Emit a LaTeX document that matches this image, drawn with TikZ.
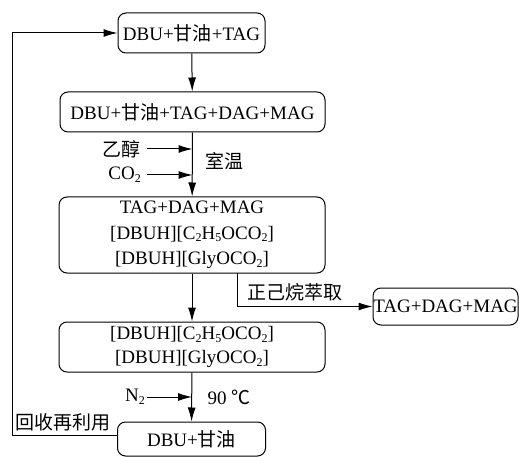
\documentclass[tikz,border=0pt]{standalone}
\usepackage{fontspec}
\setmainfont{Liberation Serif}
\newfontfamily\cjk{Noto Sans CJK SC}
\usetikzlibrary{arrows.meta}
\newcommand{\zh}[1]{{\cjk #1}}
\newcommand{\sbs}[1]{\raisebox{-0.3ex}{\fontsize{12}{12}\selectfont #1}}
\begin{document}
\begin{tikzpicture}[x=1pt,y=-1pt,
  box/.style={draw,line width=1pt,rounded corners=8pt,align=center,inner sep=0pt,
    font=\fontsize{19}{25.5}\selectfont},
  lab/.style={font=\fontsize{19}{20}\selectfont,inner sep=0pt},
  conn/.style={line width=1pt,-{Latex[length=14pt,width=8pt]}}]
\useasboundingbox (0,0) rectangle (519,457);
\node[box,minimum width=147pt,minimum height=40pt] (b1) at (191.5,33) {DBU+\zh{甘油}+TAG};
\node[box,minimum width=265pt,minimum height=40pt] (b2) at (192.5,112) {DBU+\zh{甘油}+TAG+DAG+MAG};
\node[box,minimum width=266pt,minimum height=76pt] (b3) at (192,235) {TAG+DAG+MAG\\{}[DBUH][C\sbs{2}H\sbs{5}OCO\sbs{2}]\\{}[DBUH][GlyOCO\sbs{2}]};
\node[box,minimum width=266pt,minimum height=50pt,font=\fontsize{19}{24}\selectfont] (b4) at (192,347) {{}[DBUH][C\sbs{2}H\sbs{5}OCO\sbs{2}]\\{}[DBUH][GlyOCO\sbs{2}]};
\node[box,minimum width=148pt,minimum height=34pt] (b5) at (191.5,439) {DBU+\zh{甘油}};
\node[box,minimum width=145pt,minimum height=37pt] (b6) at (445.5,306.5) {TAG+DAG+MAG};
% main flow
\draw[conn] (b1) -- (b2);
\draw[conn] (b2) -- (b3);
\draw[conn] (b3.south -| b4.north) -- (b4);
\draw[conn] (b4) -- (b5);
% inputs
\coordinate (e1) at (147,149);
\coordinate (e2) at (147,175);
\coordinate (e3) at (147,397);
\node[lab,anchor=east] (l1) at (141,149) {\zh{乙醇}};
\node[lab,anchor=east] (l2) at (141,175) {CO\sbs{2}};
\node[lab] (l3) at (224,161) {\zh{室温}};
\draw[conn] (e1) -- (e1 -| b2.south);
\draw[conn] (e2) -- (e2 -| b2.south);
\node[lab,anchor=east] (l4) at (145,397) {N\sbs{2}};
\node[lab] (l5) at (229,397) {90 \zh{℃}};
\draw[conn] (e3) -- (e3 -| b4.south);
% extraction branch
\coordinate (br) at (237,273);
\draw[conn] (br) |- (b6.west);
\node[lab] (l6) at (295,292) {\zh{正己烷萃取}};
% recycle
\coordinate (c1) at (12,435);
\draw[conn] (b5.west |- c1) -- (c1) |- (b1.west);
\node[lab,anchor=south west] (l7) at (15,431) {\zh{回收再利用}};
\end{tikzpicture}
\end{document}
